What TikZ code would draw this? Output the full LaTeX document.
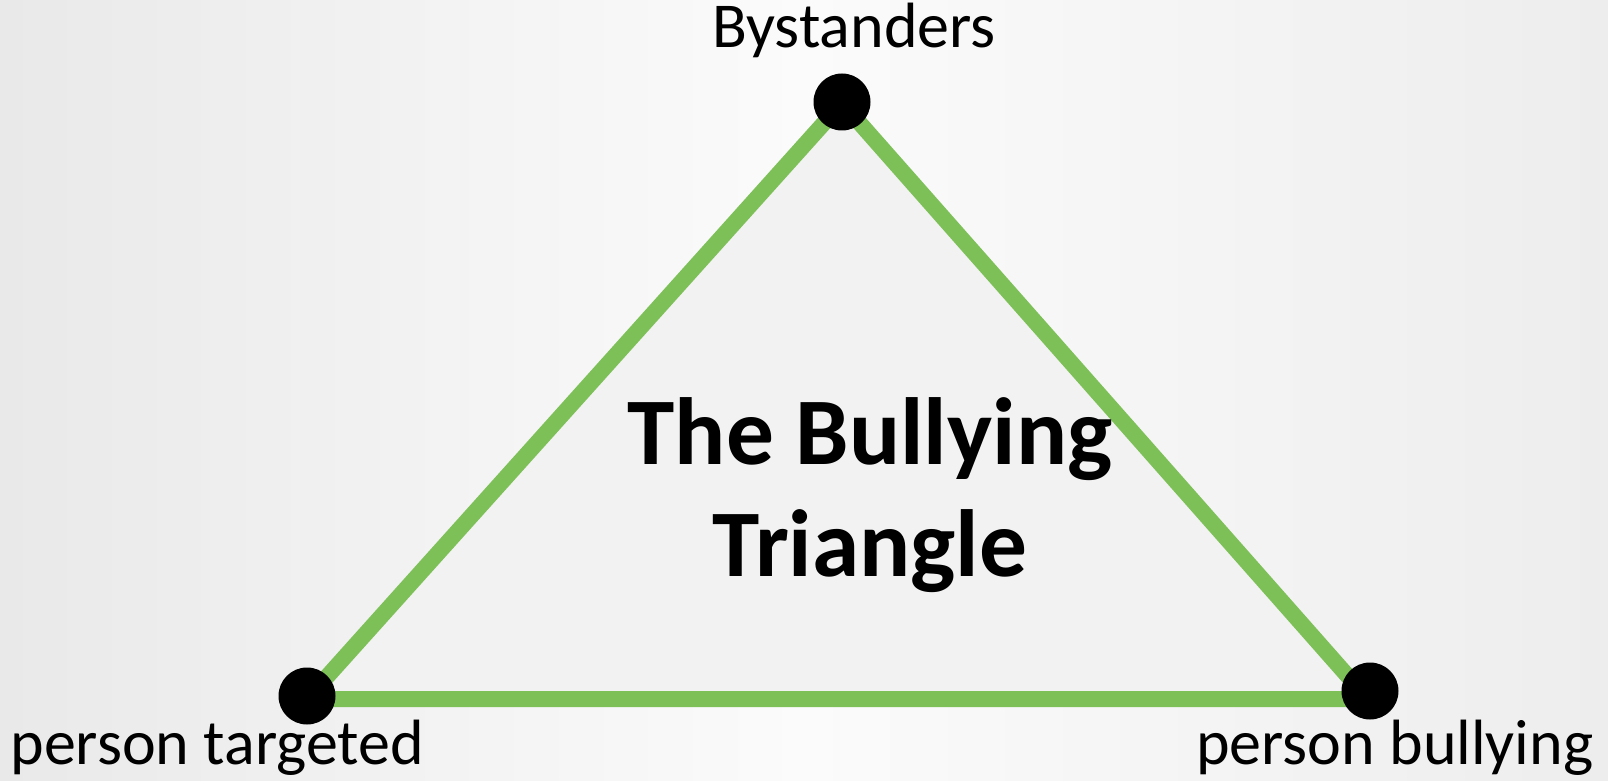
\documentclass[tikz,border=0pt]{standalone}
\usepackage{fontspec}
\setmainfont{Carlito}
\definecolor{bgside}{HTML}{E9E9E9}
\definecolor{bgright}{HTML}{EDEDED}
\definecolor{bgmid}{HTML}{FBFBFB}
\definecolor{trifill}{HTML}{F2F2F2}
\definecolor{edgegreen}{RGB}{125,192,88}
\begin{document}
\begin{tikzpicture}[x=0.5pt,y=-0.5pt,
  vertex/.style={circle,fill=black,inner sep=0pt,minimum size=28.5pt},
  edge/.style={draw=edgegreen,line width=8pt},
  lbl/.style={font=\fontsize{32}{38}\selectfont,inner sep=0pt},
  title/.style={font=\fontsize{47.7}{56}\selectfont\bfseries,align=center,inner sep=0pt}]
\shade[left color=bgside,right color=bgright,middle color=bgmid] (0,0) rectangle (1608,781);
\useasboundingbox (0,0) rectangle (1608,781);
\coordinate (T) at (842,103);
\coordinate (L) at (307,699);
\coordinate (R) at (1368,699);
\fill[trifill] (T) -- (L) -- (R) -- cycle;
\draw[edge] (T) -- (L) -- (R) -- cycle;
\node[vertex] (vt) at (842,102) {};
\node[vertex] (vl) at (307,696) {};
\node[vertex] (vr) at (1370,691) {};
\node[lbl,anchor=base] (by) at (854,48) {Bystanders};
\node[lbl,anchor=base west] (pt) at (10,764) {person targeted};
\node[lbl,anchor=base east] (pb) at (1594,764) {person bullying};
\node[title] (ti) at (870,495) {The Bullying\\Triangle};
\end{tikzpicture}
\end{document}
